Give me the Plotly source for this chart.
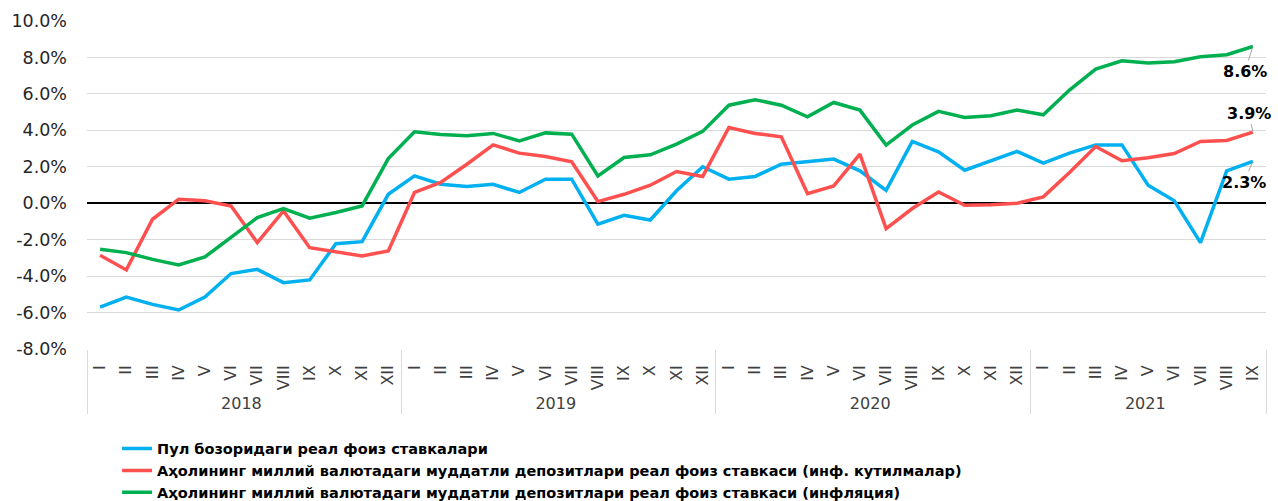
import plotly.graph_objects as go

years = ["2018"] * 12 + ["2019"] * 12 + ["2020"] * 12 + ["2021"] * 9
month_names = ["I", "II", "III", "IV", "V", "VI", "VII", "VIII", "IX", "X", "XI", "XII"]
months = month_names * 3 + month_names[:9]

money_market = [-5.7, -5.15, -5.55, -5.86, -5.15, -3.86, -3.63, -4.36, -4.21, -2.22, -2.11, 0.49,
                1.50, 1.04, 0.92, 1.04, 0.59, 1.32, 1.32, -1.15, -0.66, -0.92, 0.68, 2.0,
                1.32, 1.47, 2.14, 2.27, 2.42, 1.78, 0.71, 3.39, 2.82, 1.81, 2.33, 2.84,
                2.20, 2.75, 3.2, 3.2, 0.99, 0.13, -2.16, 1.78, 2.3]
deposit_exp = [-2.86, -3.66, -0.88, 0.22, 0.13, -0.15, -2.16, -0.42, -2.44, -2.66, -2.89, -2.62,
               0.59, 1.14, 2.14, 3.2, 2.75, 2.56, 2.27, 0.09, 0.49, 0.99, 1.74, 1.47,
               4.16, 3.83, 3.64, 0.53, 0.95, 2.69, -1.39, -0.29, 0.62, -0.11, -0.09, 0.0,
               0.35, 1.68, 3.11, 2.33, 2.49, 2.73, 3.39, 3.44, 3.9]
deposit_inf = [-2.53, -2.71, -3.08, -3.39, -2.95, -1.89, -0.79, -0.29, -0.82, -0.51, -0.15, 2.45,
               3.92, 3.77, 3.70, 3.83, 3.42, 3.86, 3.79, 1.50, 2.51, 2.66, 3.24, 3.94,
               5.38, 5.68, 5.38, 4.74, 5.53, 5.11, 3.19, 4.29, 5.04, 4.71, 4.80, 5.11,
               4.85, 6.21, 7.36, 7.82, 7.69, 7.77, 8.04, 8.15, 8.6]

y_tick_vals = [-8, -6, -4, -2, 0, 2, 4, 6, 8, 10]
y_tick_text = ["-8.0%", "-6.0%", "-4.0%", "-2.0%", "0.0%", "2.0%", "4.0%", "6.0%", "8.0%", "10.0%"]

names = ["Пул бозоридаги реал фоиз ставкалари",
         "Аҳолининг миллий валютадаги муддатли депозитлари реал фоиз ставкаси (инф. кутилмалар)",
         "Аҳолининг миллий валютадаги муддатли депозитлари реал фоиз ставкаси (инфляция)"]
colors = ["#00B0F0", "#FF5050", "#00B050"]
series = [money_market, deposit_exp, deposit_inf]

FONT = "DejaVu Sans"

fig = go.Figure()
for nm, col, vals in zip(names, colors, series):
    fig.add_trace(go.Scatter(x=[years, months], y=vals, mode="lines", name=nm,
                             line=dict(color=col, width=3.5)))

# end-of-series labels (offsets of the text from the last point, in px)
label_offsets = [(-9, 21), (-4, -19), (-8, 25)]
for (ax, ay), vals in zip(label_offsets, series):
    fig.add_annotation(x=("2021", "IX"), y=vals[-1], text=f"<b>{vals[-1]:.1f}%</b>",
                       showarrow=True, arrowhead=0, arrowwidth=1, arrowcolor="#A6A6A6",
                       ax=ax, ay=ay, standoff=1,
                       font=dict(family=FONT, size=16, color="#000000"))

fig.update_layout(
    width=1278, height=501,
    margin=dict(l=87, r=12, t=21, b=152, autoexpand=False),
    plot_bgcolor="white", paper_bgcolor="white",
    font=dict(family=FONT, color="#404040"),
    showlegend=True,
    legend=dict(x=0.0255, y=-0.255, xanchor="left", yanchor="top",
                font=dict(family=FONT, size=14.5, color="#000000", weight="bold"),
                tracegroupgap=0, bgcolor="rgba(0,0,0,0)"),
    xaxis=dict(type="multicategory", tickangle=-90, showgrid=False, automargin=False,
               range=[-0.5, len(months) - 0.5],
               showdividers=True, dividercolor="#D9D9D9", dividerwidth=1,
               tickfont=dict(family=FONT, size=16, color="#404040"),
               ticklabelstandoff=12, showline=False, ticks=""),
    yaxis=dict(range=[-8, 10], tickvals=y_tick_vals, ticktext=y_tick_text, automargin=False,
               gridcolor="#D9D9D9", gridwidth=1, zeroline=True, zerolinecolor="#000000",
               zerolinewidth=2, tickfont=dict(family=FONT, size=17.5, color="#262626"),
               ticklabelstandoff=19, ticks="", showline=False),
)
fig.write_html("out.html", config={"displayModeBar": False},
               post_script="document.body.style.margin='0';document.body.style.overflow='hidden';")
